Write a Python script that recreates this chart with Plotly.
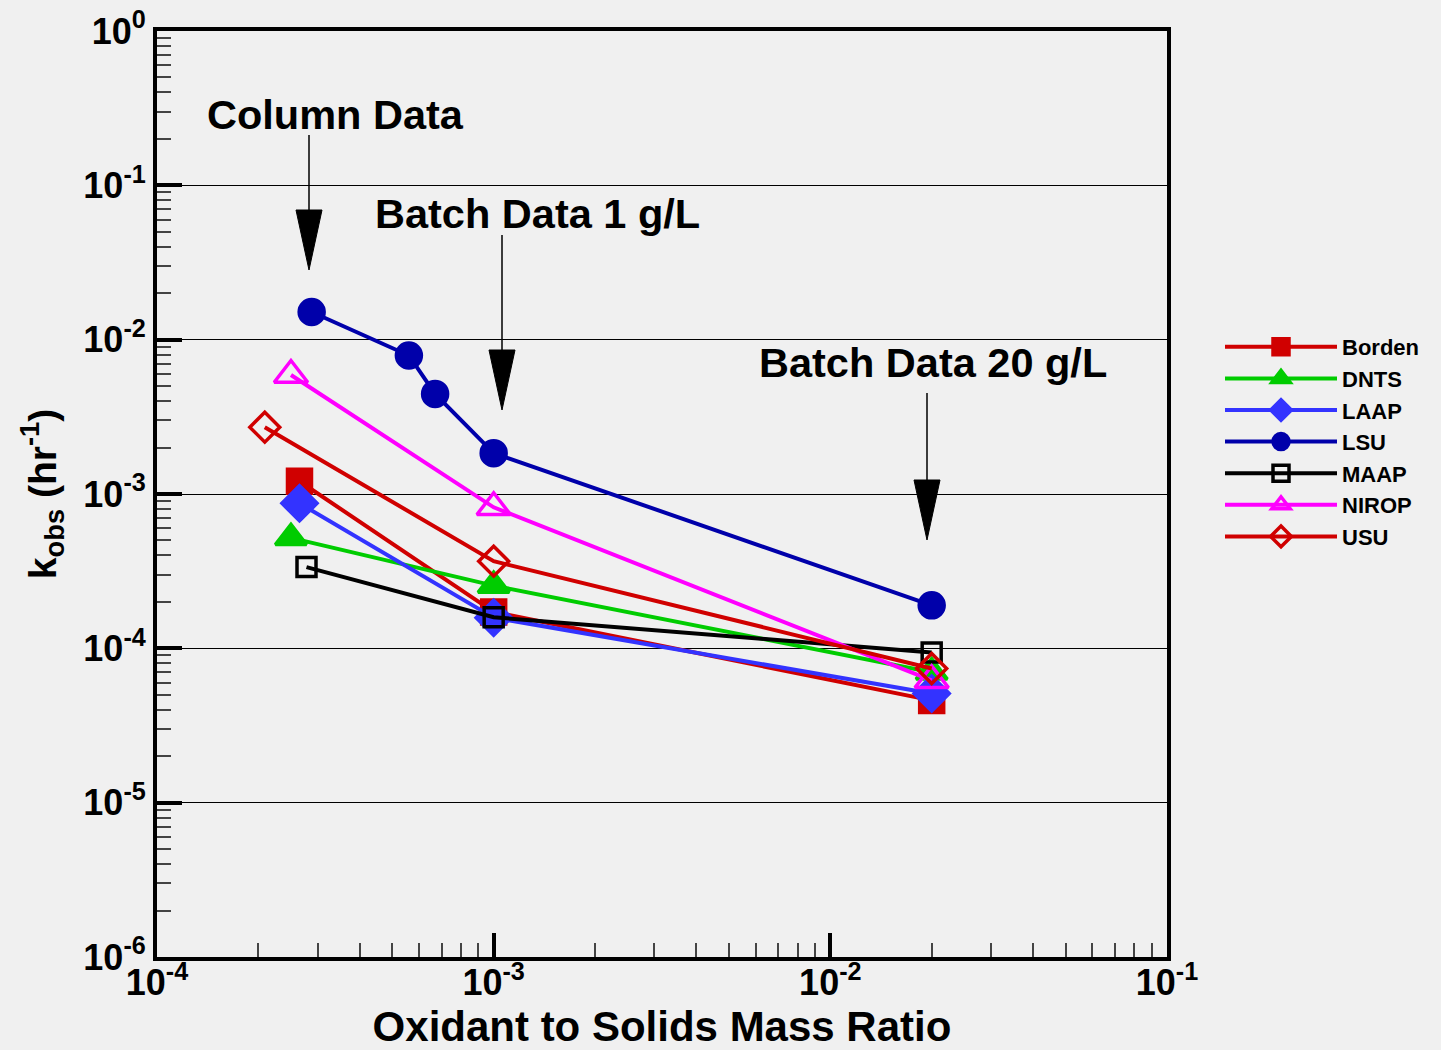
import plotly.graph_objects as go

# ---------------- data ----------------
series_names = ["Borden", "DNTS", "LAAP", "LSU", "MAAP", "NIROP", "USU"]

borden_x = [2.65e-4, 1.0e-3, 2.0e-2]
borden_y = [1.21e-3, 1.72e-4, 4.6e-5]

dnts_x = [2.5e-4, 1.0e-3, 2.0e-2]
dnts_y = [5.2e-4, 2.55e-4, 7.0e-5]

laap_x = [2.65e-4, 1.0e-3, 2.0e-2]
laap_y = [8.7e-4, 1.58e-4, 5.1e-5]

lsu_x = [2.88e-4, 5.6e-4, 6.7e-4, 1.0e-3, 2.0e-2]
lsu_y = [1.51e-2, 7.9e-3, 4.45e-3, 1.84e-3, 1.9e-4]

maap_x = [2.78e-4, 1.0e-3, 2.0e-2]
maap_y = [3.36e-4, 1.59e-4, 9.4e-5]

nirop_x = [2.5e-4, 1.0e-3, 2.0e-2]
nirop_y = [5.9e-3, 8.2e-4, 6.2e-5]

usu_x = [2.09e-4, 1.0e-3, 2.0e-2]
usu_y = [2.71e-3, 3.67e-4, 7.4e-5]

x_tick_vals = [1e-4, 1e-3, 1e-2, 1e-1]
x_tick_text = ["<b>10<sup>-4</sup></b>", "<b>10<sup>-3</sup></b>", "<b>10<sup>-2</sup></b>", "<b>10<sup>-1</sup></b>"]
y_tick_vals = [1e-6, 1e-5, 1e-4, 1e-3, 1e-2, 1e-1, 1e0]
y_tick_text = ["<b>10<sup>-6</sup></b>", "<b>10<sup>-5</sup></b>", "<b>10<sup>-4</sup></b>",
               "<b>10<sup>-3</sup></b>", "<b>10<sup>-2</sup></b>", "<b>10<sup>-1</sup></b>",
               "<b>10<sup>0</sup></b>"]

# ---------------- styles ----------------
styles = {
    "Borden": dict(color="#D00000", symbol="square", size=24),
    "DNTS": dict(color="#00CC00", symbol="triangle-up", size=27),
    "LAAP": dict(color="#3333FF", symbol="diamond", size=27),
    "LSU": dict(color="#0000AA", symbol="circle", size=25),
    "MAAP": dict(color="#000000", symbol="square-open", size=19),
    "NIROP": dict(color="#FF00FF", symbol="triangle-up-open", size=29),
    "USU": dict(color="#D00000", symbol="diamond-open", size=23),
}
data = {
    "Borden": (borden_x, borden_y),
    "DNTS": (dnts_x, dnts_y),
    "LAAP": (laap_x, laap_y),
    "LSU": (lsu_x, lsu_y),
    "MAAP": (maap_x, maap_y),
    "NIROP": (nirop_x, nirop_y),
    "USU": (usu_x, usu_y),
}

fig = go.Figure()
for name in series_names:
    xs, ys = data[name]
    st = styles[name]
    fig.add_trace(go.Scatter(
        x=xs, y=ys, name=name, mode="lines+markers",
        line=dict(color=st["color"], width=4),
        marker=dict(symbol=st["symbol"], size=st["size"], color=st["color"],
                    line=dict(width=3.5, color=st["color"])),
    ))

# plot area in pixels
W, H = 1441, 1050
L, T, R, B = 157, 31, 1167, 957


def px(xp):
    return (xp - L) / (R - L)


def py(yp):
    return (B - yp) / (B - T)


shapes = []
annotations = []

arrows = [
    # x, line top, head top, head bottom
    (309, 135, 210, 270),
    (502, 235, 350, 410),
    (927, 393, 480, 540),
]
for ax_, y0, yh, y1 in arrows:
    shapes.append(dict(type="line", xref="paper", yref="paper",
                       x0=px(ax_), x1=px(ax_), y0=py(y0), y1=py(yh + 5),
                       line=dict(color="black", width=1.5)))
    shapes.append(dict(type="path", xref="paper", yref="paper",
                       path=f"M {px(ax_-13)} {py(yh)} L {px(ax_+13)} {py(yh)} L {px(ax_)} {py(y1)} Z",
                       fillcolor="black", line=dict(color="black", width=1)))

texts = [
    ("Column Data", 205, 115),
    ("Batch Data 1 g/L", 373, 213),
    ("Batch Data 20 g/L", 757, 362),
]
for t, x_, y_ in texts:
    annotations.append(dict(text=f"<b>{t}</b>", xref="paper", yref="paper",
                            x=px(x_), y=py(y_), xanchor="left", yanchor="middle",
                            showarrow=False,
                            font=dict(family="Liberation Sans, Arial", size=41.5, color="black")))

x_minor = [m * 10 ** e for e in range(-4, -1) for m in range(2, 10)]
y_minor = [m * 10 ** e for e in range(-6, 0) for m in range(2, 10)]

fig.update_layout(
    width=W, height=H,
    margin=dict(l=L, r=W - R, t=T, b=H - B, autoexpand=False),
    paper_bgcolor="#F0F0F0",
    plot_bgcolor="#F0F0F0",
    font=dict(family="Liberation Sans, Arial", color="black"),
    shapes=shapes,
    annotations=annotations,
    showlegend=True,
    legend=dict(x=px(1220), y=py(326), xanchor="left", yanchor="top",
                bgcolor="rgba(0,0,0,0)",
                font=dict(size=22, family="Liberation Sans, Arial", color="black", weight="bold"),
                itemwidth=112, tracegroupgap=0),
    xaxis=dict(
        type="log", range=[-4, -1], automargin=False,
        tickmode="array", tickvals=x_tick_vals, ticktext=x_tick_text,
        tickfont=dict(size=36, color="black"), ticklabelstandoff=-9,
        ticks="inside", ticklen=24, tickwidth=4, tickcolor="black",
        showline=True, linewidth=4, linecolor="black", mirror=True,
        showgrid=False, zeroline=False,
        minor=dict(tickvals=x_minor, ticks="inside", ticklen=14, tickwidth=1.5,
                   tickcolor="#444444", showgrid=False),
        title=dict(text="<b>Oxidant to Solids Mass Ratio</b>",
                   font=dict(size=42, color="black"), standoff=14),
    ),
    yaxis=dict(
        type="log", range=[-6, 0], automargin=False,
        tickmode="array", tickvals=y_tick_vals, ticktext=y_tick_text,
        tickfont=dict(size=36, color="black"),
        ticks="inside", ticklen=25, tickwidth=4, tickcolor="black",
        showline=True, linewidth=4, linecolor="black", mirror=True,
        showgrid=True, gridcolor="black", gridwidth=1, zeroline=False,
        minor=dict(tickvals=y_minor, ticks="inside", ticklen=14, tickwidth=1.5,
                   tickcolor="#444444", showgrid=False),
        title=dict(text="<b>k<sub>obs</sub> (hr<sup>-1</sup>)</b>",
                   font=dict(size=39, color="black"), standoff=16),
    ),
)

fig.write_html("out.html")
